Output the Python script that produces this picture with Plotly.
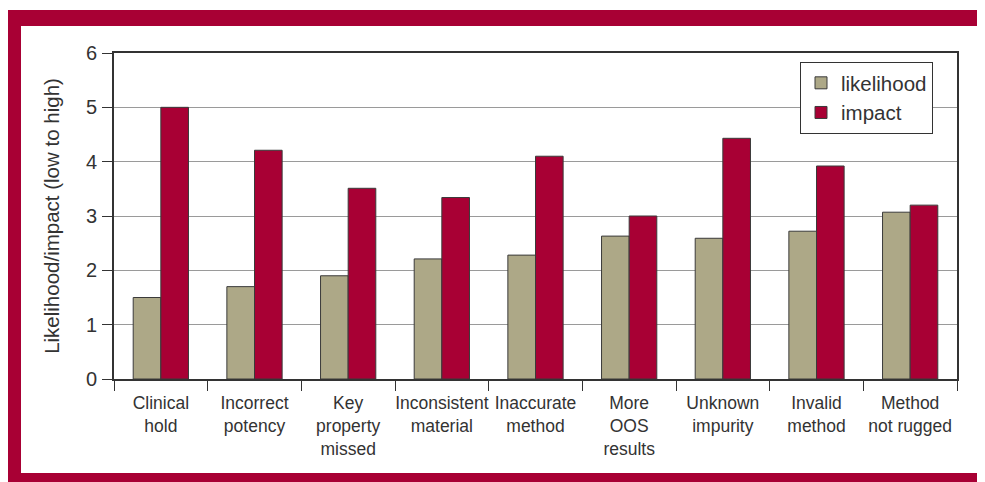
import plotly.graph_objects as go

categories = ["Clinical<br>hold", "Incorrect<br>potency", "Key<br>property<br>missed",
              "Inconsistent<br>material", "Inaccurate<br>method", "More<br>OOS<br>results",
              "Unknown<br>impurity", "Invalid<br>method", "Method<br>not rugged"]
likelihood = [1.50, 1.70, 1.90, 2.21, 2.28, 2.63, 2.59, 2.72, 3.07]
impact = [5.00, 4.21, 3.51, 3.34, 4.10, 3.00, 4.43, 3.92, 3.20]

# page body has an 8px margin, so the figure is placed 8px in from the window edge
OX, OY = 8, 8
W, H = 985 - OX, 482 - OY
L, R, T, B = 114 - OX, 957 - OX, 53 - OY, 379 - OY
pw, ph = R - L, B - T


def px(x):
    return (x - OX - L) / pw


def py(y):
    return (B - (y - OY)) / ph


FRAME = "#A80034"
fig = go.Figure()
fig.add_trace(go.Bar(x=categories, y=likelihood, name="likelihood",
                     marker=dict(color="#ADA887", line=dict(color="#3a3a3a", width=1))))
fig.add_trace(go.Bar(x=categories, y=impact, name="impact",
                     marker=dict(color="#A80034", line=dict(color="#3a3a3a", width=1))))

shapes = [
    dict(type="rect", xref="paper", yref="paper", x0=px(0), x1=px(995), y0=py(10), y1=py(495),
         fillcolor=FRAME, line=dict(width=0), layer="below"),
    dict(type="rect", xref="paper", yref="paper", x0=px(21), x1=px(978), y0=py(26), y1=py(473),
         fillcolor="white", line=dict(width=0), layer="below"),
]

fig.update_layout(
    width=W, height=H,
    margin=dict(l=L, r=W - R, t=T, b=H - B, pad=0, autoexpand=False),
    paper_bgcolor="white", plot_bgcolor="white",
    font=dict(family="Liberation Sans, Arial, sans-serif", color="#333333"),
    barmode="group", bargap=0.41, bargroupgap=0,
    shapes=shapes,
    legend=dict(x=px(800), y=py(62), xanchor="left", yanchor="top",
                font=dict(size=20.5, color="#333333"), bordercolor="#333333", borderwidth=1,
                bgcolor="white", tracegroupgap=4, entrywidth=100),
    xaxis=dict(showline=True, linecolor="#333333", linewidth=2, mirror=True, automargin=False,
               ticks="outside", tickson="boundaries", ticklen=10, tickcolor="#333333",
               tickangle=0, ticklabelstandoff=7,
               tickfont=dict(size=17.5, color="#333333"), showgrid=False),
    yaxis=dict(range=[0, 6], dtick=1, showline=True, linecolor="#333333", linewidth=2, mirror=True,
               automargin=False,
               ticks="outside", ticklen=10, tickcolor="#333333",
               tickfont=dict(size=20, color="#333333"), ticklabelstandoff=1,
               showgrid=True, gridcolor="#9a9a9a", gridwidth=1, zeroline=False,
               title=dict(text="Likelihood/impact (low to high)", font=dict(size=20.5, color="#333333"),
                          standoff=21)),
)

fig.write_html("out.html")
